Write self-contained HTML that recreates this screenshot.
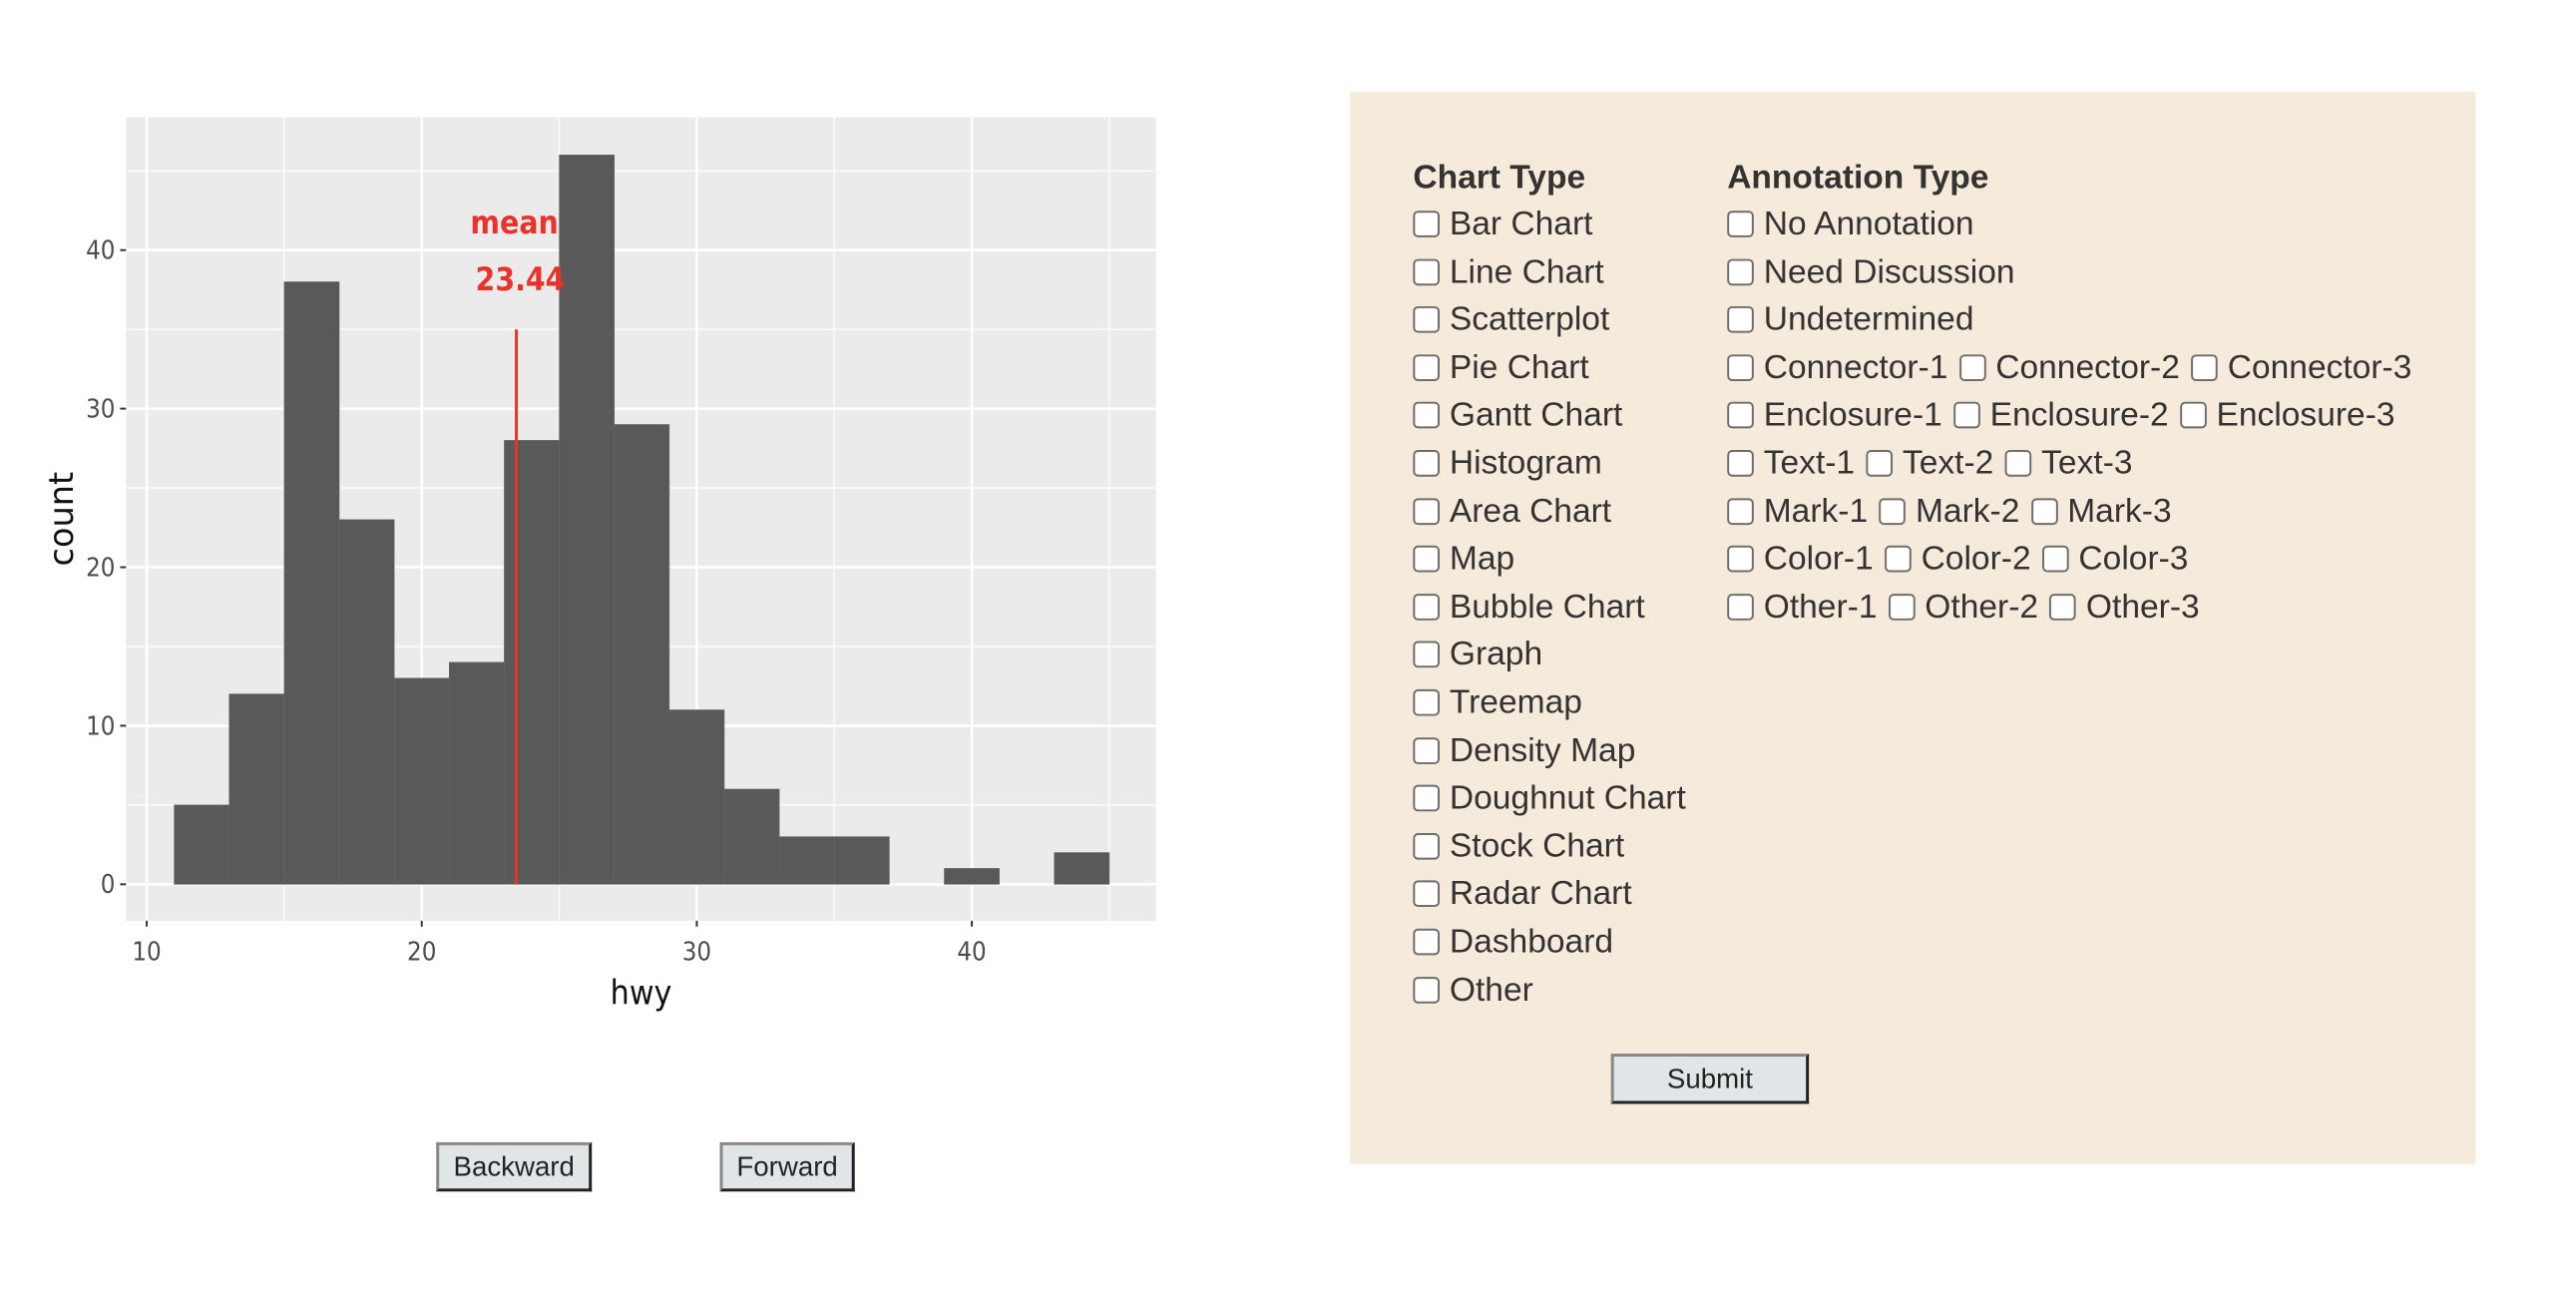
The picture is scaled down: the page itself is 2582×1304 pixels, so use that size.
<!DOCTYPE html>
<html><head><meta charset="utf-8">
<style>
body{margin:0;width:2582px;height:1304px;background:#fff;position:relative;overflow:hidden;font-family:"Liberation Sans",sans-serif;}
#wrap{position:absolute;left:0;top:0;width:2582px;height:1304px;transform:scale(0.987);transform-origin:0 0;}
#chart{position:absolute;left:0;top:0}
.panel{position:absolute;left:1371px;top:93px;width:1143px;height:1089px;background:#f6eadb;}
.hd{position:absolute;font-weight:bold;font-size:34px;color:#333;white-space:nowrap;line-height:40px;}
.row{position:absolute;font-size:34px;color:#333;white-space:nowrap;line-height:40px;}
.cb{display:inline-block;border:2px solid #6e6e6e;border-radius:5px;background:#fff;vertical-align:-3px;margin-right:10px;box-sizing:border-box;width:27px;height:27px}
.cb.mid{margin-left:2px}
.btn{position:absolute;background:#e0e6e7;border:3px solid #222;border-top-color:#888;border-left-color:#888;box-sizing:border-box;font-size:28px;color:#222;text-align:center;}
</style></head><body>
<div id="wrap">
<svg id="chart" width="1250" height="1080" xmlns="http://www.w3.org/2000/svg"></svg>

<div class="panel">
<div class="hd" style="left:64px;top:67px">Chart Type</div>
<div class="hd" style="left:383px;top:67px">Annotation Type</div>
</div>
<div class="btn" style="left:443px;top:1160px;width:158px;height:50px;line-height:44px">Backward</div>
<div class="btn" style="left:731px;top:1160px;width:137px;height:50px;line-height:44px">Forward</div>
<div class="btn" style="left:1636px;top:1070px;width:201px;height:51px;line-height:45px">Submit</div>
</div>

<script>
const binStarts=[11,13,15,17,19,21,23,25,27,29,31,33,35,37,39,41,43];
const counts=[5,12,38,23,13,14,28,46,29,11,6,3,3,0,1,0,2];
const binWidth=2;
const xTicks=[10,20,30,40];
const yTicks=[0,10,20,30,40];
const meanValue=[23.44];
const meanLineTop=[35];

const NS='http://www.w3.org/2000/svg';
const svg=document.getElementById('chart');
const X=v=>149+(v-10)*27.93;
const Y=v=>898-v*16.1;
const PL=128,PR=1174,PT=119,PB=935;
function mk(t,a,p){const e=document.createElementNS(NS,t);for(const k in a)e.setAttribute(k,a[k]);(p||svg).appendChild(e);return e;}
let bg=mk('rect',{x:PL,y:PT,width:PR-PL,height:PB-PT,fill:'#ebebeb'});


for(let v=15;v<=45;v+=10){mk('line',{x1:X(v),x2:X(v),y1:PT,y2:PB,stroke:'#fff','stroke-width':1.3});}
for(let v=5;v<=45;v+=10){mk('line',{x1:PL,x2:PR,y1:Y(v),y2:Y(v),stroke:'#fff','stroke-width':1.3});}
xTicks.forEach(v=>{mk('line',{x1:X(v),x2:X(v),y1:PT,y2:PB,stroke:'#fff','stroke-width':2.6});});
yTicks.forEach(v=>{mk('line',{x1:PL,x2:PR,y1:Y(v),y2:Y(v),stroke:'#fff','stroke-width':2.6});});
binStarts.forEach((s,i)=>{
  if(counts[i]<=0)return;
  const r=mk('rect',{x:X(s),y:Y(counts[i]),width:X(s+binWidth)-X(s),height:Y(0)-Y(counts[i]),fill:'#595959',stroke:'#666','stroke-width':0.6});
  
  
});
const ml=mk('line',{x1:X(meanValue[0]),x2:X(meanValue[0]),y1:Y(0),y2:Y(meanLineTop[0]),stroke:'#e8332a','stroke-width':3});


const t1=mk('text',{x:X(meanValue[0])-2,y:237,'text-anchor':'middle','font-size':32,fill:'#e8332a','font-family':'DejaVu Sans Condensed, DejaVu Sans, sans-serif','font-weight':'bold'});t1.textContent='mean';


const t2=mk('text',{x:X(meanValue[0])+4,y:295,'text-anchor':'middle','font-size':32,fill:'#e8332a','font-family':'DejaVu Sans Condensed, DejaVu Sans, sans-serif','font-weight':'bold'});t2.textContent=meanValue[0].toFixed(2);


xTicks.forEach(v=>{
  mk('line',{x1:X(v),x2:X(v),y1:PB,y2:PB+6,stroke:'#333','stroke-width':2});
  const t=mk('text',{x:X(v),y:PB+40,'text-anchor':'middle','font-size':26,fill:'#4d4d4d','font-family':'DejaVu Sans Condensed, sans-serif'});t.textContent=v;
  
  
});
yTicks.forEach(v=>{
  mk('line',{x1:PL-6,x2:PL,y1:Y(v),y2:Y(v),stroke:'#333','stroke-width':2});
  const t=mk('text',{x:PL-11,y:Y(v)+9,'text-anchor':'end','font-size':26,fill:'#4d4d4d','font-family':'DejaVu Sans Condensed, sans-serif'});t.textContent=v;
  
  
});
const xt=mk('text',{x:651,y:1020,'text-anchor':'middle','font-size':34,fill:'#111','font-family':'DejaVu Sans Condensed, sans-serif'});xt.textContent='hwy';


const yt=mk('text',{x:0,y:0,'text-anchor':'middle','font-size':34,fill:'#111','font-family':'DejaVu Sans, sans-serif',transform:'translate(74,527) rotate(-90)'});yt.textContent='count';



const chartTypes=['Bar Chart','Line Chart','Scatterplot','Pie Chart','Gantt Chart','Histogram','Area Chart','Map','Bubble Chart','Graph','Treemap','Density Map','Doughnut Chart','Stock Chart','Radar Chart','Dashboard','Other'];
const annRows=[['No Annotation'],['Need Discussion'],['Undetermined'],['Connector-1','Connector-2','Connector-3'],['Enclosure-1','Enclosure-2','Enclosure-3'],['Text-1','Text-2','Text-3'],['Mark-1','Mark-2','Mark-3'],['Color-1','Color-2','Color-3'],['Other-1','Other-2','Other-3']];
const panel=document.querySelector('.panel');
function row(left,i){const d=document.createElement('div');d.className='row';d.style.left=left+'px';d.style.top=(114+i*48.6)+'px';panel.appendChild(d);return d;}
function cb(d,label,first){const b=document.createElement('span');b.className='cb'+(first?'':' mid');


d.appendChild(b);d.appendChild(document.createTextNode(label));}
chartTypes.forEach((c,i)=>{const d=row(64,i);


cb(d,c,true);});
annRows.forEach((r,i)=>{const d=row(383,i);


r.forEach((l,j)=>{if(j>0)d.appendChild(document.createTextNode(' '));cb(d,l,j===0);});});
</script>
</body></html>
